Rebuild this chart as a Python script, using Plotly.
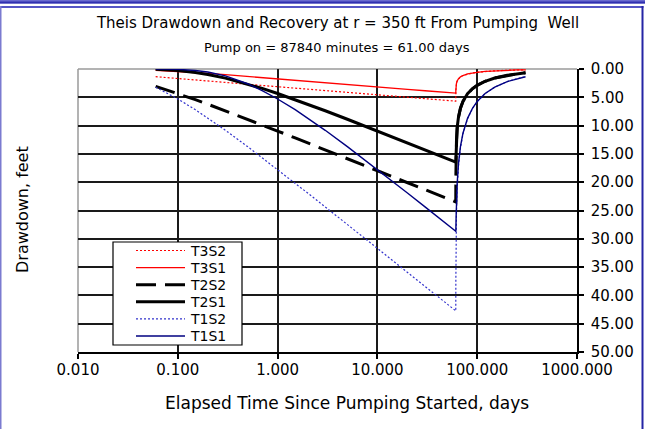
import plotly.graph_objects as go

# ---------------- data ----------------
time_pump_days = [0.06, 0.08, 0.1, 0.15, 0.2, 0.3, 0.5, 0.7, 1, 1.5, 2, 3, 5, 7,
                  10, 15, 20, 30, 45, 61]
time_recovery_days = [61.1, 61.5, 62, 63, 65, 68, 72, 80, 90, 100, 120, 150, 200,
                      250, 305]

t3s2_pump = [1.36, 1.52, 1.66, 1.92, 2.10, 2.37, 2.70, 2.91, 3.14, 3.41, 3.59, 3.84,
             4.15, 4.36, 4.58, 4.82, 5.00, 5.25, 5.50, 5.68]
t3s2_recovery = [3.91, 2.94, 2.52, 2.11, 1.71, 1.39, 1.15, 0.88, 0.69, 0.58, 0.43,
                 0.32, 0.22, 0.17, 0.14]

t3s1_pump = [0.22, 0.33, 0.43, 0.63, 0.79, 1.01, 1.31, 1.52, 1.74, 2.00, 2.18, 2.44,
             2.75, 2.95, 3.17, 3.42, 3.59, 3.84, 4.09, 4.27]
t3s1_recovery = [3.74, 2.91, 2.51, 2.10, 1.70, 1.39, 1.15, 0.88, 0.69, 0.58, 0.43,
                 0.32, 0.22, 0.17, 0.14]

t2s2_pump = [3.06, 3.76, 4.33, 5.42, 6.22, 7.38, 8.88, 9.88, 10.96, 12.18, 13.05,
             14.29, 15.84, 16.87, 17.96, 19.20, 20.08, 21.32, 22.56, 23.49]
t2s2_recovery = [19.17, 14.63, 12.58, 10.53, 8.52, 6.95, 5.75, 4.40, 3.46, 2.88,
                 2.17, 1.60, 1.11, 0.86, 0.68]

t2s1_pump = [0.06, 0.15, 0.27, 0.61, 0.96, 1.61, 2.65, 3.43, 4.33, 5.42, 6.22, 7.38,
             8.88, 9.88, 10.96, 12.18, 13.05, 14.29, 15.52, 16.45]
t2s1_recovery = [16.19, 13.82, 12.17, 10.33, 8.42, 6.89, 5.71, 4.38, 3.45, 2.87,
                 2.17, 1.60, 1.11, 0.86, 0.68]

t1s2_pump = [3.21, 4.33, 5.30, 7.19, 8.65, 10.83, 13.71, 15.66, 17.76, 20.18, 21.91,
             24.36, 27.46, 29.51, 31.68, 34.16, 35.91, 38.39, 40.87, 42.73]
t1s2_recovery = [37.44, 29.07, 25.07, 21.02, 17.02, 13.89, 11.48, 8.79, 6.93, 5.76,
                 4.34, 3.19, 2.23, 1.71, 1.37]

t1s1_pump = [0.00, 0.02, 0.06, 0.26, 0.53, 1.22, 2.60, 3.82, 5.30, 7.19, 8.65,
             10.83, 13.71, 15.66, 17.76, 20.18, 21.91, 24.36, 26.82, 28.67]
t1s1_recovery = [28.61, 26.12, 23.47, 20.21, 16.62, 13.67, 11.35, 8.72, 6.89, 5.73,
                 4.33, 3.19, 2.22, 1.71, 1.37]

x_tick_values = [0.01, 0.1, 1, 10, 100, 1000]
x_tick_labels = ["0.010", "0.100", "1.000", "10.000", "100.000", "1000.000"]
y_tick_values = [0, 5, 10, 15, 20, 25, 30, 35, 40, 45, 50]

series_names = ["T3S2", "T3S1", "T2S2", "T2S1", "T1S2", "T1S1"]
series_values = [t3s2_pump + t3s2_recovery, t3s1_pump + t3s1_recovery,
                 t2s2_pump + t2s2_recovery, t2s1_pump + t2s1_recovery,
                 t1s2_pump + t1s2_recovery, t1s1_pump + t1s1_recovery]
series_lines = [
    dict(color="#FF0000", width=1.2, dash="2px,2px"),
    dict(color="#FF0000", width=1.3),
    dict(color="#000000", width=3, dash="20px,9px"),
    dict(color="#000000", width=3),
    dict(color="#3333CC", width=1.2, dash="2px,2px"),
    dict(color="#000080", width=1.4),
]

FONT = "DejaVu Sans"
times = time_pump_days + time_recovery_days

fig = go.Figure()
for name, vals, ln in zip(series_names, series_values, series_lines):
    fig.add_trace(go.Scatter(x=times, y=vals, mode="lines", name=name, line=ln,
                             showlegend=False))

# pixel helpers for decoration placement (plot area 78..577 x 69..352)
W, H = 645, 429
L, R, T, B = 78, 68, 69, 77
pw, ph = W - L - R, H - T - B


def px(xp):
    return (xp - L) / pw


def py(yp):
    return (H - B - yp) / ph


fig.update_layout(
    width=W, height=H,
    margin=dict(l=L, r=R, t=T, b=B, autoexpand=False),
    paper_bgcolor="white", plot_bgcolor="white",
    font=dict(family=FONT, size=15, color="black"),
    showlegend=False,
    xaxis=dict(type="log", range=[-2, 3], tickvals=x_tick_values,
               ticktext=x_tick_labels, showgrid=True, gridcolor="#1a1a1a",
               gridwidth=1.5, showline=True, linecolor="black", linewidth=1.5,
               ticks="outside", ticklen=5, tickcolor="black", tickwidth=1.5,
               zeroline=False, tickfont=dict(family=FONT, size=15),
               ticklabelstandoff=-2),
    yaxis=dict(range=[50, 0], side="right", tickvals=y_tick_values,
               tickformat=".2f", showgrid=True, gridcolor="#1a1a1a",
               gridwidth=1.5, showline=True, linecolor="black", linewidth=1.5,
               ticks="outside", ticklen=5, tickcolor="black", tickwidth=1.5,
               zeroline=False, tickfont=dict(family=FONT, size=15),
               ticklabelstandoff=4),
    title=dict(text="Theis Drawdown and Recovery at r = 350 ft From Pumping  Well",
               x=338 / W, xanchor="center", xref="container",
               y=1 - 23 / H, yanchor="middle", yref="container",
               font=dict(family=FONT, size=15, color="black")),
)

fig.add_annotation(text="Pump on = 87840 minutes = 61.00 days", xref="paper",
                   yref="paper", x=px(337), y=py(48), showarrow=False,
                   xanchor="center", yanchor="middle",
                   font=dict(family=FONT, size=13, color="black"))
fig.add_annotation(text="Elapsed Time Since Pumping Started, days", xref="paper",
                   yref="paper", x=px(347), y=py(403), showarrow=False,
                   xanchor="center", yanchor="middle",
                   font=dict(family=FONT, size=17, color="black"))
fig.add_annotation(text="Drawdown, feet", xref="paper", yref="paper",
                   x=px(22), y=py(210), showarrow=False, textangle=-90,
                   xanchor="center", yanchor="middle",
                   font=dict(family=FONT, size=16, color="black"))

# plot-area gray borders (top and left)
fig.add_shape(type="line", xref="paper", yref="paper", x0=0, x1=1, y0=1, y1=1,
              line=dict(color="#9a9a9a", width=1.5), layer="between")
fig.add_shape(type="line", xref="paper", yref="paper", x0=0, x1=0, y0=0, y1=1,
              line=dict(color="#9a9a9a", width=1.5), layer="between")

# legend box (keys use the same line styles as the series)
lg_left, lg_right, lg_top, lg_bottom = 113, 242, 242, 345
fig.add_shape(type="rect", xref="paper", yref="paper", x0=px(lg_left),
              x1=px(lg_right), y0=py(lg_bottom), y1=py(lg_top),
              fillcolor="white", line=dict(color="black", width=1.2))
for i, (name, ln) in enumerate(zip(series_names, series_lines)):
    yc = 250.5 + 17.1 * i
    fig.add_shape(type="line", xref="paper", yref="paper", x0=px(136), x1=px(185),
                  y0=py(yc), y1=py(yc), line=ln)
    fig.add_annotation(text=name, xref="paper", yref="paper", x=px(188), y=py(yc),
                       showarrow=False, xanchor="left", yanchor="middle",
                       font=dict(family=FONT, size=14, color="black"))

# outer blue frame: band at the very top, then the frame box
fig.add_shape(type="rect", xref="paper", yref="paper", x0=px(0), x1=px(645),
              y0=py(3.5), y1=py(0), fillcolor="#6a6ad0", line_width=0)
fig.add_shape(type="rect", xref="paper", yref="paper", x0=px(0), x1=px(645),
              y0=py(3.5), y1=py(1.5), fillcolor="#3030b0", line_width=0)
fig.add_shape(type="rect", xref="paper", yref="paper", x0=px(0), x1=px(643.5),
              y0=py(8), y1=py(6), fillcolor="#5555c5", line_width=0)
fig.add_shape(type="rect", xref="paper", yref="paper", x0=px(0), x1=px(1.5),
              y0=py(429), y1=py(6), fillcolor="#7b7bd0", line_width=0)
fig.add_shape(type="rect", xref="paper", yref="paper", x0=px(641.5), x1=px(643.5),
              y0=py(429), y1=py(6), fillcolor="#2525a5", line_width=0)

fig.write_html("out.html",
               config={"displayModeBar": False},
               post_script="document.body.style.margin='0';"
                           "document.body.style.overflow='hidden';")
